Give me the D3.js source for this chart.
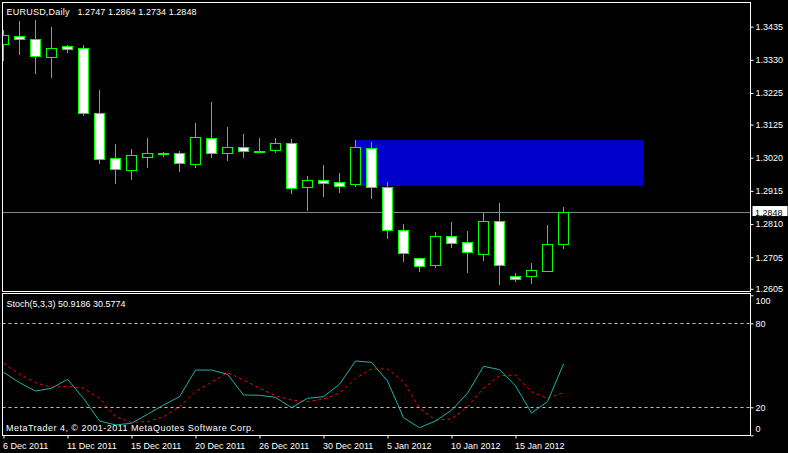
<!DOCTYPE html>
<html><head><meta charset="utf-8">
<script src="https://cdn.jsdelivr.net/npm/d3@7"></script>
<style>
html,body{margin:0;padding:0;background:#000;overflow:hidden}
text{font-family:"Liberation Sans",Arial,sans-serif;font-size:9px;fill:#fff}
</style>
</head><body>
<svg id="c" width="788" height="453"></svg>
<script>
// ---- data ----
const symbolName = "EURUSD,Daily";
const barDates = ["2011-12-06","2011-12-07","2011-12-08","2011-12-09","2011-12-11","2011-12-12","2011-12-13","2011-12-14","2011-12-15","2011-12-16","2011-12-18","2011-12-19","2011-12-20","2011-12-21","2011-12-22","2011-12-23","2011-12-26","2011-12-27","2011-12-28","2011-12-29","2011-12-30","2012-01-02","2012-01-03","2012-01-04","2012-01-05","2012-01-06","2012-01-08","2012-01-09","2012-01-10","2012-01-11","2012-01-12","2012-01-13","2012-01-15","2012-01-16","2012-01-17","2012-01-18"];
const openPrices  = [1.3379,1.3406,1.3395,1.3340,1.3373,1.3367,1.3161,1.3018,1.2983,1.3023,1.3034,1.3035,1.3001,1.3082,1.3034,1.3053,1.3042,1.3045,1.3066,1.2926,1.2948,1.2943,1.2935,1.3050,1.2926,1.2791,1.2701,1.2678,1.2771,1.2752,1.2716,1.2820,1.2645,1.2646,1.2662,1.2747];
const highPrices  = [1.3425,1.3453,1.3456,1.3434,1.3376,1.3377,1.3234,1.3063,1.3048,1.3083,1.3039,1.3041,1.3129,1.3197,1.3117,1.3095,1.3082,1.3082,1.3079,1.2962,1.2997,1.2972,1.3076,1.3070,1.2943,1.2810,1.2702,1.2785,1.2816,1.2788,1.2846,1.2876,1.2654,1.2686,1.2807,1.2864];
const lowPrices   = [1.3330,1.3348,1.3287,1.3277,1.3356,1.3155,1.3004,1.2941,1.2954,1.2992,1.3026,1.2979,1.2992,1.3023,1.3014,1.3023,1.3041,1.3038,1.2909,1.2854,1.2899,1.2911,1.2930,1.2892,1.2766,1.2693,1.2662,1.2674,1.2737,1.2658,1.2696,1.2620,1.2629,1.2624,1.2661,1.2734];
const closePrices = [1.3409,1.3395,1.3340,1.3367,1.3365,1.3161,1.3015,1.2983,1.3029,1.3035,1.3033,1.3004,1.3086,1.3034,1.3053,1.3040,1.3042,1.3066,1.2922,1.2948,1.2938,1.2931,1.3053,1.2928,1.2789,1.2719,1.2675,1.2771,1.2748,1.2719,1.2820,1.2681,1.2637,1.2664,1.2746,1.2848];
const stochMain   = [45,37.6,31.6,33.6,40,26.4,10.2,7.4,8.6,15,21.6,27.6,46.6,46.6,43.6,28.8,28.6,27.1,19.7,26.4,27.6,36.4,53.1,52.1,38.8,12.6,5.4,10.2,17.9,30,49.3,46.9,35.4,15.9,24,50.9186];
const stochSignal = [51.4,43.6,37.6,34.3,35,33.6,26.4,13.3,9.3,9.7,13.3,20.4,31.1,37.9,44.7,39.5,33.6,28.3,25.2,24,25.9,30,40.7,47.4,47.4,38.3,19.3,10.9,11.6,20.4,33.6,42.6,43.1,31.1,26.4,30.5774];
const priceTicks = [1.3435,1.3330,1.3225,1.3125,1.3020,1.2915,1.2810,1.2705,1.2605];
const stochTicks = [100,80,20,0];
const stochLevels = [80,20];
const dateTickBars = [0,4,8,12,16,20,24,28,32];
const zoneBars = [22,40];
const zonePrices = [1.2931,1.3076];

// ---- layout ----
const svg = d3.select("#c");
svg.append("rect").attr("width",788).attr("height",453).attr("fill","#000");
const L = 2.5, R = 750.5, mainTop = 2.5, mainBot = 291.5, stTop = 293.5, stBot = 435.5;
const GREEN = "#00ff00";

const x = d3.scaleLinear().domain([0, 46.75]).range([3.5, 751.5]);
const y = d3.scaleLinear().domain([1.2598, 1.3510]).range([291, 3]);
const ys = d3.scaleLinear().domain([0, 100]).range([435.3, 295.3]);
const parse = d3.timeParse("%Y-%m-%d");
const fmtDate = d3.timeFormat("%-d %b %Y");
const fmtP = d3.format(".4f");

const defs = svg.append("defs");
defs.append("clipPath").attr("id","cm").append("rect").attr("x",3).attr("y",3).attr("width",747).attr("height",288);
defs.append("clipPath").attr("id","cs").append("rect").attr("x",3).attr("y",294).attr("width",747).attr("height",141);

const main = svg.append("g").attr("clip-path","url(#cm)");

// zone rectangle
main.append("rect")
  .attr("x", x(zoneBars[0])).attr("width", x(zoneBars[1]) - x(zoneBars[0]))
  .attr("y", y(zonePrices[1])).attr("height", y(zonePrices[0]) - y(zonePrices[1]))
  .attr("fill", "#0000cd");

// current price line
const last = closePrices.length - 1;
const snap = v => Math.round(v) + 0.5;
main.append("line").attr("x1",L).attr("x2",R)
  .attr("y1", snap(y(closePrices[last]))).attr("y2", snap(y(closePrices[last])))
  .attr("stroke","#778899");

// candles
const idx = d3.range(openPrices.length);
const cg = main.append("g");
cg.selectAll("line.w").data(idx).join("line").attr("class","w")
  .attr("x1", i => x(i)).attr("x2", i => x(i))
  .attr("y1", i => Math.round(y(highPrices[i]))).attr("y2", i => Math.round(y(lowPrices[i])) + 1)
  .attr("stroke", GREEN);
cg.selectAll("rect.b").data(idx).join("rect").attr("class","b")
  .attr("x", i => x(i) - 5).attr("width", 10)
  .attr("y", i => snap(y(Math.max(openPrices[i], closePrices[i]))))
  .attr("height", i => Math.max(1, Math.round(Math.abs(y(openPrices[i]) - y(closePrices[i])))))
  .attr("fill", i => closePrices[i] > openPrices[i] ? "#000" : "#fff")
  .attr("stroke", GREEN);

// stochastic pane
const st = svg.append("g").attr("clip-path","url(#cs)");
st.selectAll("line.lv").data(stochLevels).join("line").attr("class","lv")
  .attr("x1", L).attr("x2", R)
  .attr("y1", d => snap(ys(d))).attr("y2", d => snap(ys(d)))
  .attr("stroke","#c0c0c0").attr("stroke-dasharray","3,3");
const lineK = d3.line().x((d,i) => x(i)).y(d => ys(d));
st.append("path").attr("d", lineK(stochSignal)).attr("fill","none")
  .attr("stroke","#ff0000").attr("stroke-dasharray","3,3");
st.append("path").attr("d", lineK(stochMain)).attr("fill","none")
  .attr("stroke","#20b2aa");

// frames
svg.append("rect").attr("x",L).attr("y",mainTop).attr("width",R-L).attr("height",mainBot-mainTop)
  .attr("fill","none").attr("stroke","#fff");
svg.append("rect").attr("x",L).attr("y",stTop).attr("width",R-L).attr("height",stBot-stTop)
  .attr("fill","none").attr("stroke","#fff");

// price axis
const pAx = svg.append("g").attr("transform",`translate(${R},0)`)
  .call(d3.axisRight(y).tickValues(priceTicks).tickSize(3).tickPadding(2).tickFormat(fmtP));
pAx.select(".domain").remove();
pAx.selectAll(".tick line").attr("stroke","#fff");
pAx.selectAll("text").attr("fill","#fff").style("font-size","9px").style("font-family",null);
pAx.attr("font-family",null).attr("font-size",null);

// current price label
const cy = y(closePrices[last]);
svg.append("rect").attr("x",752.5).attr("y",cy-6).attr("width",35).attr("height",10).attr("fill","#fff");
svg.append("text").attr("x",755).attr("y",cy+3.5).style("fill","#000").text(fmtP(closePrices[last]));

// stoch axis
const sAx = svg.append("g").attr("transform",`translate(${R},0)`)
  .call(d3.axisRight(ys).tickValues(stochTicks).tickSize(3).tickPadding(2).tickFormat(d3.format("d")));
sAx.select(".domain").remove();
sAx.attr("font-family",null).attr("font-size",null);
sAx.selectAll(".tick line").attr("stroke","#fff");
sAx.selectAll(".tick text").attr("fill","#fff")
  .attr("y", d => Math.max(stTop + 7, Math.min(stBot - 6.5, ys(d))) - ys(d));

// date axis
const dAx = svg.append("g").attr("transform",`translate(0,${stBot})`)
  .call(d3.axisBottom(x).tickValues(dateTickBars).tickSize(3).tickPadding(2)
    .tickFormat(i => fmtDate(parse(barDates[i]))));
dAx.select(".domain").remove();
dAx.attr("font-family",null).attr("font-size",null);
dAx.selectAll(".tick line").attr("stroke","#fff");
dAx.selectAll(".tick text").attr("fill","#fff").attr("text-anchor","start").attr("x",-1).attr("dy",null).attr("y",13);

// labels
svg.append("text").attr("x",6.5).attr("y",14.5).attr("textLength",63).text(symbolName);
svg.append("text").attr("x",77.5).attr("y",14.5).attr("textLength",119)
  .text([openPrices[last],highPrices[last],lowPrices[last],closePrices[last]].map(fmtP).join(" "));
svg.append("text").attr("x",6.5).attr("y",307)
  .text(`Stoch(5,3,3) ${stochMain[last].toFixed(4)} ${stochSignal[last].toFixed(4)}`);
svg.append("text").attr("x",6).attr("y",431).attr("textLength",248)
  .text("MetaTrader 4, © 2001-2011 MetaQuotes Software Corp.");
</script>
</body></html>
